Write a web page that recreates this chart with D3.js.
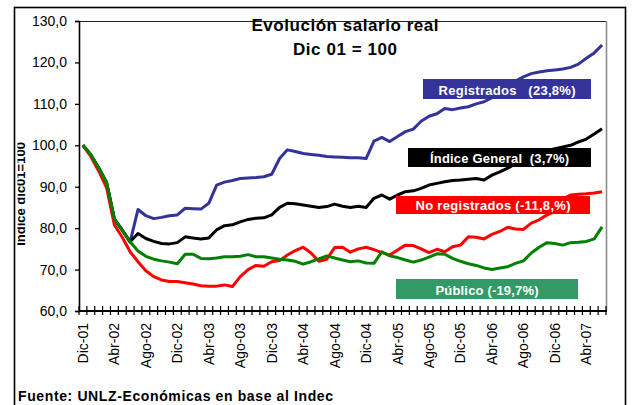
<!DOCTYPE html>
<html lang="es">
<head>
<meta charset="UTF-8">
<title>Evolución salario real</title>
<script src="https://d3js.org/d3.v7.min.js"></script>
<style>
    html, body { margin: 0; padding: 0; background: #fff; }
    text { font-family: "Liberation Sans", Arial, sans-serif; }
</style>
</head>
<body>
<div id="chart"></div>
<script>
    // meses Dic-01 .. Jun-07
    var categories = [
        'Dic-01', 'Ene-02', 'Feb-02', 'Mar-02', 'Abr-02', 'May-02', 'Jun-02', 'Jul-02', 'Ago-02', 'Sep-02', 'Oct-02', 'Nov-02',
        'Dic-02', 'Ene-03', 'Feb-03', 'Mar-03', 'Abr-03', 'May-03', 'Jun-03', 'Jul-03', 'Ago-03', 'Sep-03', 'Oct-03', 'Nov-03',
        'Dic-03', 'Ene-04', 'Feb-04', 'Mar-04', 'Abr-04', 'May-04', 'Jun-04', 'Jul-04', 'Ago-04', 'Sep-04', 'Oct-04', 'Nov-04',
        'Dic-04', 'Ene-05', 'Feb-05', 'Mar-05', 'Abr-05', 'May-05', 'Jun-05', 'Jul-05', 'Ago-05', 'Sep-05', 'Oct-05', 'Nov-05',
        'Dic-05', 'Ene-06', 'Feb-06', 'Mar-06', 'Abr-06', 'May-06', 'Jun-06', 'Jul-06', 'Ago-06', 'Sep-06', 'Oct-06', 'Nov-06',
        'Dic-06', 'Ene-07', 'Feb-07', 'Mar-07', 'Abr-07', 'May-07', 'Jun-07'
    ];

    var registrados = [100, 97.7, 94.5, 91.0, 82.2, 79.5, 76.7, 84.5, 83.0, 82.3, 82.6, 83.0, 83.2, 84.8, 84.7, 84.6,
        86.0, 90.4, 91.1, 91.5, 92.0, 92.1, 92.2, 92.4, 93.0, 96.8, 98.9, 98.5, 98.0, 97.8, 97.6, 97.3, 97.2, 97.1, 97.0,
        97.0, 96.8, 101.0, 101.9, 100.9, 102.1, 103.3, 103.9, 105.8, 107.0, 107.6, 108.9, 108.6, 109.0, 109.3, 110.0,
        110.5, 111.5, 112.5, 114.0, 115.5, 116.5, 117.3, 117.7, 118.0, 118.2, 118.4, 118.8, 119.6, 121.0, 122.3, 124.2];

    var general = [100, 97.7, 94.5, 91.0, 82.2, 79.5, 76.7, 78.7, 77.5, 76.8, 76.3, 76.2, 76.5, 77.9, 77.6, 77.4,
        77.6, 79.6, 80.6, 80.8, 81.5, 82.1, 82.4, 82.5, 83.2, 85.0, 86.0, 85.9, 85.6, 85.3, 85.0, 85.2, 85.8, 85.3, 85.0,
        85.3, 85.0, 87.2, 88.0, 87.0, 88.0, 88.8, 89.0, 89.6, 90.4, 90.8, 91.2, 91.5, 91.6, 91.8, 92.0, 91.6, 92.8, 93.6,
        94.5, 95.5, 96.3, 97.2, 98.0, 98.7, 99.2, 99.6, 100.0, 100.8, 101.5, 102.7, 104.0];

    var noRegistrados = [100, 97.3, 93.8, 89.8, 80.8, 77.8, 74.3, 71.9, 69.7, 68.3, 67.5, 67.1, 67.1, 66.8, 66.5,
        66.1, 66.0, 66.0, 66.3, 65.9, 68.3, 70.0, 71.0, 70.8, 71.9, 72.2, 73.5, 74.6, 75.4, 74.0, 72.0, 72.5, 75.3, 75.4,
        74.2, 75.0, 75.4, 74.8, 74.1, 73.5, 74.7, 75.9, 75.8, 75.0, 74.1, 74.9, 74.3, 75.5, 75.9, 77.9, 77.8, 77.4, 78.5,
        79.2, 80.2, 79.8, 79.7, 81.2, 82.0, 83.2, 84.0, 87.0, 88.0, 88.2, 88.3, 88.5, 88.8];

    var publico = [100, 97.7, 94.5, 91.0, 82.2, 79.5, 76.7, 74.5, 73.2, 72.5, 72.1, 71.8, 71.4, 73.7, 73.7, 72.7,
        72.6, 72.8, 73.1, 73.1, 73.2, 73.6, 73.1, 73.1, 72.8, 72.5, 72.3, 72.0, 71.3, 71.9, 72.6, 73.3, 72.8, 72.3, 71.9,
        72.1, 71.6, 71.5, 74.3, 73.3, 72.9, 72.3, 71.8, 72.3, 73.0, 73.8, 73.7, 72.7, 72.0, 71.4, 71.0, 70.4, 70.0, 70.4,
        70.7, 71.5, 72.1, 74.0, 75.4, 76.5, 76.3, 75.9, 76.5, 76.6, 76.8, 77.4, 80.3];

    var yTicks = [60, 70, 80, 90, 100, 110, 120, 130];

    var series = [
        { name: 'Registrados   (23,8%)', values: registrados, color: '#333399', box: '#333399' },
        { name: 'Índice General  (3,7%)', values: general, color: '#000000', box: '#000000' },
        { name: 'No registrados (-11,8,%)', values: noRegistrados, color: '#ff0000', box: '#ff0000' },
        { name: 'Público (-19,7%)', values: publico, color: '#008000', box: '#339966' }
    ];

    // cajas de etiqueta (posicion en pixeles)
    var boxes = [
        { x: 423, y: 79, w: 168, h: 20, tw: 137 },
        { x: 408, y: 148, w: 183, h: 19, tw: 139 },
        { x: 396, y: 196, w: 194, h: 18, tw: 155 },
        { x: 396, y: 279, w: 182, h: 20, tw: 103 }
    ];

    var width = 634, height = 405;
    var plot = { left: 79, right: 606, top: 21, bottom: 311 };

    var svg = d3.select('#chart')
        .append('svg')
        .attr('width', width)
        .attr('height', height);

    svg.append('defs').append('clipPath')
        .attr('id', 'frameClip')
        .append('rect')
        .attr('x', 17.5).attr('y', 8).attr('width', 600).attr('height', 400);

    // marco exterior
    svg.append('rect')
        .attr('x', 14.5).attr('y', 7.5)
        .attr('width', 611).attr('height', 420)
        .attr('fill', 'none')
        .attr('stroke', '#000')
        .attr('stroke-width', 1.6);

    var x = d3.scaleBand()
        .domain(categories)
        .range([plot.left, plot.right])
        .padding(0);

    var y = d3.scaleLinear()
        .domain([60, 130])
        .range([plot.bottom, plot.top]);

    // borde del area de grafico
    svg.append('line')
        .attr('x1', plot.left).attr('x2', plot.right)
        .attr('y1', plot.top + 0.5).attr('y2', plot.top + 0.5)
        .attr('stroke', '#222').attr('stroke-width', 1);
    svg.append('line')
        .attr('x1', plot.right + 0.5).attr('x2', plot.right + 0.5)
        .attr('y1', plot.top).attr('y2', plot.bottom)
        .attr('stroke', '#8c8c8c').attr('stroke-width', 1.6);

    // eje Y
    var yAxis = d3.axisLeft(y)
        .tickValues(yTicks)
        .tickSize(4)
        .tickPadding(8)
        .tickFormat(function (d) { return d3.format('.1f')(d).replace('.', ','); });

    var gy = svg.append('g')
        .attr('transform', 'translate(' + plot.left + ',0)')
        .call(yAxis);
    gy.select('.domain').attr('stroke', '#000').attr('stroke-width', 1.6);
    gy.selectAll('.tick line').attr('stroke', '#000').attr('stroke-width', 1.3);
    gy.selectAll('.tick text')
        .attr('font-size', 14)
        .attr('font-family', '"Liberation Sans", Arial, sans-serif')
        .attr('fill', '#000');

    // eje X: marcas en los limites de cada categoria
    var gx = svg.append('g');
    gx.selectAll('line.tk')
        .data(categories.concat(['fin']))
        .enter().append('line')
        .attr('class', 'tk')
        .attr('x1', function (d, i) { return plot.left + i * x.bandwidth(); })
        .attr('x2', function (d, i) { return plot.left + i * x.bandwidth(); })
        .attr('y1', plot.bottom - 5)
        .attr('y2', plot.bottom + 4)
        .attr('stroke', '#000')
        .attr('stroke-width', 1.2);
    gx.append('line')
        .attr('x1', plot.left).attr('x2', plot.right + 1)
        .attr('y1', plot.bottom).attr('y2', plot.bottom)
        .attr('stroke', '#000').attr('stroke-width', 1.8);

    gx.selectAll('text.xl')
        .data(categories.filter(function (d, i) { return i % 4 === 0; }))
        .enter().append('text')
        .attr('class', 'xl')
        .attr('transform', function (d) {
            return 'translate(' + (x(d) + x.bandwidth() / 2 + 5) + ',' + (plot.bottom + 12) + ') rotate(-90)';
        })
        .attr('text-anchor', 'end')
        .attr('font-size', 14)
        .attr('fill', '#000')
        .text(function (d) { return d; });

    // lineas
    var line = d3.line()
        .x(function (d, i) { return x(categories[i]) + x.bandwidth() / 2; })
        .y(function (d) { return y(d); });

    svg.selectAll('path.serie')
        .data(series)
        .enter().append('path')
        .attr('class', 'serie')
        .attr('d', function (d) { return line(d.values); })
        .attr('fill', 'none')
        .attr('stroke', function (d) { return d.color; })
        .attr('stroke-width', 3)
        .attr('stroke-linejoin', 'round');

    // etiquetas en cajas
    series.forEach(function (s, i) {
        var b = boxes[i];
        svg.append('rect')
            .attr('x', b.x).attr('y', b.y)
            .attr('width', b.w).attr('height', b.h)
            .attr('fill', s.box);
        svg.append('text')
            .attr('x', b.x + b.w / 2)
            .attr('y', b.y + b.h - 4.5)
            .attr('text-anchor', 'middle')
            .attr('font-size', 13)
            .attr('font-weight', 'bold')
            .attr('fill', '#fff')
            .attr('textLength', b.tw)
            .attr('lengthAdjust', 'spacing')
            .style('white-space', 'pre')
            .text(s.name);
    });

    // titulo
    svg.append('text')
        .attr('x', 345).attr('y', 31)
        .attr('text-anchor', 'middle')
        .attr('font-size', 17).attr('font-weight', 'bold')
        .attr('textLength', 187)
        .text('Evolución salario real');
    svg.append('text')
        .attr('x', 345).attr('y', 55)
        .attr('text-anchor', 'middle')
        .attr('font-size', 17).attr('font-weight', 'bold')
        .attr('textLength', 104)
        .text('Dic 01 = 100');

    // titulo eje Y (recortado por el marco)
    svg.append('g')
        .attr('clip-path', 'url(#frameClip)')
        .append('text')
        .attr('transform', 'translate(25,194) rotate(-90)')
        .attr('text-anchor', 'middle')
        .attr('font-size', 13).attr('font-weight', 'bold')
        .text('Indice dic01=100');

    // fuente
    svg.append('text')
        .attr('x', 18).attr('y', 401)
        .attr('font-size', 14).attr('font-weight', 'bold')
        .attr('textLength', 315)
        .attr('lengthAdjust', 'spacing')
        .text('Fuente: UNLZ-Económicas en base al Indec');
</script>
</body>
</html>
